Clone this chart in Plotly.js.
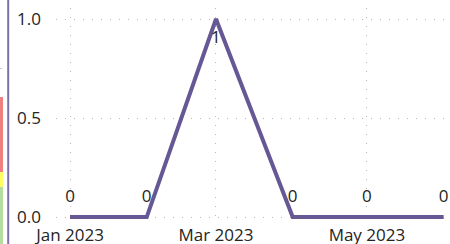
<!DOCTYPE html>
<html>
<head>
<meta charset="utf-8">
<script src="https://cdn.plot.ly/plotly-3.0.1.min.js"></script>
<style>html,body{margin:0;padding:0;background:#fff;}#chart{width:450px;height:244px;}</style>
</head>
<body>
<div id="chart"></div>
<script>
const months = ['2023-01-01','2023-02-01','2023-03-01','2023-04-01','2023-05-01','2023-06-01'];
const values = [0, 0, 1, 0, 0, 0];
const labels = ['0','0','1','0','0','0'];
const labelPositions = ['top center','top center','bottom center','top center','top center','top center'];
const xTickVals = ['2023-01-01','2023-03-01','2023-05-01'];
const xTickText = ['Jan 2023','Mar 2023','May 2023'];
const yTickVals = [0, 0.5, 1];
const yTickText = ['0.0','0.5','1.0'];

const lineColor = 'rgb(101,88,148)';
const textColor = '#252423';
const gridColor = 'rgb(185,185,185)';

const trace = {
  x: months,
  y: values,
  type: 'scatter',
  mode: 'lines+markers+text',
  line: {color: lineColor, width: 4},
  marker: {size: 16, opacity: 0, color: lineColor},
  text: labels,
  textposition: labelPositions,
  textfont: {family: 'Open Sans, sans-serif', size: 17, color: textColor},
  cliponaxis: false,
  hoverinfo: 'skip'
};

const L = 56, PW = 394, T = 8, PH = 215;
function px(x){ return (x - L) / PW; }
function py(y){ return (T + PH - y) / PH; }

const layout = {
  width: 450, height: 244,
  margin: {l: L, r: 0, t: T, b: 244 - T - PH, pad: 0},
  paper_bgcolor: '#fff', plot_bgcolor: '#fff',
  showlegend: false,
  font: {family: 'Open Sans, sans-serif', size: 17, color: textColor},
  xaxis: {
    type: 'date',
    range: ['2022-12-26 08:00', '2023-06-03 14:00'],
    tickvals: xTickVals, ticktext: xTickText,
    showgrid: true, gridcolor: gridColor, griddash: '1px,8px', gridwidth: 1,
    zeroline: false, showline: false, ticks: '',
    tickfont: {family: 'Open Sans, sans-serif', size: 17, color: textColor},
    ticklabelstandoff: 0
  },
  yaxis: {
    range: [-0.03, 1.0556],
    tickvals: yTickVals, ticktext: yTickText,
    showgrid: true, gridcolor: gridColor, griddash: '1px,8px', gridwidth: 1,
    zeroline: false, showline: false, ticks: '',
    tickfont: {family: 'Open Sans, sans-serif', size: 17, color: textColor},
    ticklabelstandoff: 14
  },
  shapes: [
    {type: 'rect', xref: 'paper', yref: 'paper', x0: px(0), x1: px(3), y0: py(172), y1: py(97), fillcolor: 'rgb(240,128,128)', line: {width: 0}},
    {type: 'rect', xref: 'paper', yref: 'paper', x0: px(0), x1: px(3), y0: py(187), y1: py(172), fillcolor: 'rgb(255,255,100)', line: {width: 0}},
    {type: 'rect', xref: 'paper', yref: 'paper', x0: px(0), x1: px(3), y0: py(244), y1: py(187), fillcolor: 'rgb(180,222,160)', line: {width: 0}},
    {type: 'rect', xref: 'paper', yref: 'paper', x0: px(0), x1: px(2), y0: py(69), y1: py(68), fillcolor: 'rgb(200,200,200)', line: {width: 0}},
    {type: 'line', xref: 'paper', yref: 'paper', x0: px(8.2), x1: px(8.2), y0: py(244), y1: py(0), line: {color: 'rgb(128,112,170)', width: 2}}
  ]
};

Plotly.newPlot('chart', [trace], layout, {displayModeBar: false, staticPlot: true});
</script>
</body>
</html>
